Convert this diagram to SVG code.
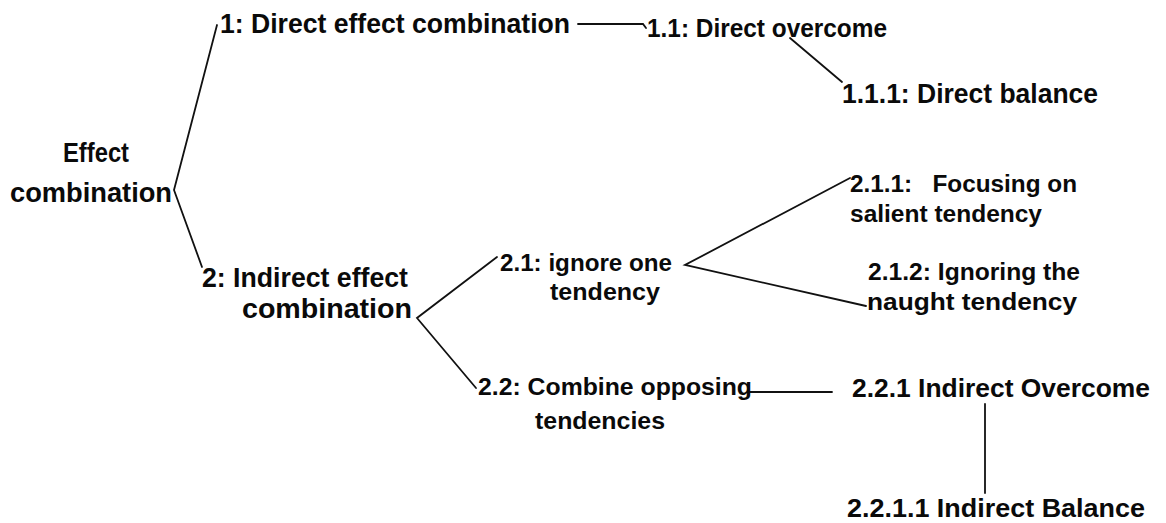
<svg xmlns="http://www.w3.org/2000/svg" width="1166" height="523" viewBox="0 0 1166 523">
  <style>
    .t { font-family: "Liberation Sans", Arial, sans-serif; font-weight: bold; fill: #0a0a0a; }
    .l { font-size: 28px; }
    .m { font-size: 26px; }
    .s { font-size: 23px; }
    .c { stroke: #111; stroke-width: 1.8; fill: none; stroke-linecap: round; }
  </style>
  <rect width="1166" height="523" fill="#fff"/>

  <!-- connectors -->
  <g id="connectors">
    <polyline class="c" points="217,25 174,190 202,267"/>
    <polyline class="c" points="578,24 643,24 646,28"/>
    <line class="c" x1="790" y1="38" x2="842" y2="82"/>
    <polyline class="c" points="497,257 417,318 476,388"/>
    <polyline class="c" points="850,178 685,265 866,306"/>
    <line class="c" x1="750" y1="392" x2="832" y2="392"/>
    <line class="c" x1="985" y1="404" x2="985" y2="493"/>
  </g>

  <g id="root">
    <text class="t l" x="96" y="162" text-anchor="middle" textLength="66" lengthAdjust="spacingAndGlyphs">Effect</text>
    <text class="t l" x="10" y="202" textLength="162" lengthAdjust="spacingAndGlyphs">combination</text>
  </g>
  <g id="n1">
    <text class="t l" x="220" y="33" textLength="350" lengthAdjust="spacingAndGlyphs">1: Direct effect combination</text>
  </g>
  <g id="n1-1">
    <text class="t m" x="647" y="37" textLength="240" lengthAdjust="spacingAndGlyphs">1.1: Direct overcome</text>
  </g>
  <g id="n1-1-1">
    <text class="t l" x="842" y="103" textLength="256" lengthAdjust="spacingAndGlyphs">1.1.1: Direct balance</text>
  </g>
  <g id="n2">
    <text class="t l" x="202" y="287" textLength="206" lengthAdjust="spacingAndGlyphs">2: Indirect effect</text>
    <text class="t l" x="242" y="318" textLength="170" lengthAdjust="spacingAndGlyphs">combination</text>
  </g>
  <g id="n2-1">
    <text class="t s" x="500" y="271" textLength="172" lengthAdjust="spacingAndGlyphs">2.1: ignore one</text>
    <text class="t s" x="550" y="300" textLength="110" lengthAdjust="spacingAndGlyphs">tendency</text>
  </g>
  <g id="n2-1-1">
    <text class="t s" x="850" y="192" textLength="227" lengthAdjust="spacingAndGlyphs" xml:space="preserve">2.1.1:   Focusing on</text>
    <text class="t s" x="850" y="222" textLength="192" lengthAdjust="spacingAndGlyphs">salient tendency</text>
  </g>
  <g id="n2-1-2">
    <text class="t s" x="868" y="280" textLength="212" lengthAdjust="spacingAndGlyphs">2.1.2: Ignoring the</text>
    <text class="t s" x="867" y="310" textLength="210" lengthAdjust="spacingAndGlyphs">naught tendency</text>
  </g>
  <g id="n2-2">
    <text class="t s" x="478" y="395" textLength="274" lengthAdjust="spacingAndGlyphs">2.2: Combine opposing</text>
    <text class="t s" x="535" y="429" textLength="130" lengthAdjust="spacingAndGlyphs">tendencies</text>
  </g>
  <g id="n2-2-1">
    <text class="t m" x="852" y="397" textLength="298" lengthAdjust="spacingAndGlyphs">2.2.1 Indirect Overcome</text>
  </g>
  <g id="n2-2-1-1">
    <text class="t m" x="847" y="517" textLength="298" lengthAdjust="spacingAndGlyphs">2.2.1.1 Indirect Balance</text>
  </g>
</svg>
